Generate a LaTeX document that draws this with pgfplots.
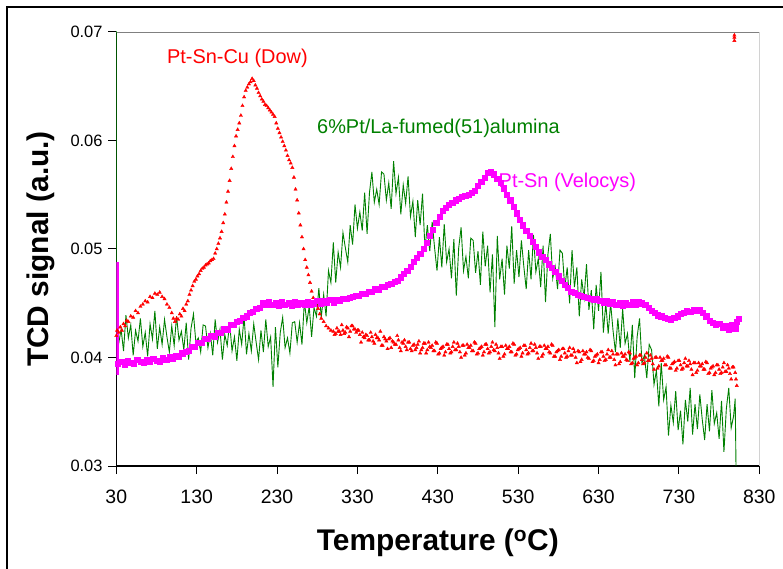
\documentclass[border=0pt]{standalone}
\usepackage{fontspec}
\setmainfont{Liberation Sans}
\usepackage{pgfplots}
\pgfplotsset{compat=1.18}
\definecolor{cred}{RGB}{255,0,0}
\definecolor{cgreen}{RGB}{0,128,0}
\definecolor{cmag}{RGB}{255,0,255}
\begin{document}
\begin{tikzpicture}
\useasboundingbox (0,0) rectangle (783bp,569bp);
\draw[line width=1.5bp] (7bp,0) -- (7bp,562bp) -- (783bp,562bp);
\begin{axis}[
  at={(116.3bp,103bp)}, anchor=south west,
  scale only axis, width=643bp, height=434bp,
  xmin=30, xmax=830, ymin=0.03, ymax=0.07,
  axis x line*=bottom, axis y line*=left,
  axis line style={-, line width=1.3bp, black},
  xtick={30,130,230,330,430,530,630,730,830},
  ytick={0.03,0.04,0.05,0.06,0.07},
  xticklabels={30,130,230,330,430,530,630,730,830},
  yticklabels={0.03,0.04,0.05,0.06,0.07},
  scaled y ticks=false, scaled x ticks=false,
  tick align=outside, major tick length=8bp,
  tick style={black, line width=1bp},
  xticklabel style={font=\fontsize{19.5}{22}\selectfont, anchor=north, inner sep=0pt, yshift=-16bp},
  yticklabel style={font=\fontsize{16.5}{19}\selectfont, anchor=east, inner sep=0pt, xshift=-5.6bp},
  xlabel={Temperature (\textsuperscript{o}C)},
  ylabel={TCD signal (a.u.)},
  label style={font=\fontsize{30}{36}\selectfont\bfseries},
  xlabel style={at={(axis description cs:0.5,-0.1774)}, anchor=center},
  ylabel style={at={(axis description cs:-0.1166,0.5)}, anchor=center},
  clip=true,
]
\draw[black!50, line width=0.8bp] (rel axis cs:0,1) -- (rel axis cs:1,1) -- (rel axis cs:1,0);

% Pt-Sn-Cu (Dow)
\addplot[only marks, mark=triangle*, mark size=1.9bp, color=cred] coordinates {
(30,0.0420)(31,0.0425)(33,0.0423)(35,0.0428)(37,0.0425)(39,0.0431)(41,0.0429)(43,0.0434)(45,0.0433)(48,0.0438)(51,0.0437)(54,0.0443)(57,0.0441)(60,0.0447)(63,0.0449)(66,0.0452)(69,0.0451)(72,0.0456)(75,0.0455)(78,0.0459)(81,0.0458)(84,0.0460)(87,0.0456)(90,0.0454)(93,0.0449)(96,0.0446)(99,0.0441)(101,0.0436)(103,0.0433)(105,0.0436)(107,0.0435)(109,0.0440)(111,0.0438)(113,0.0445)(115,0.0443)(117,0.0449)(119,0.0452)(121,0.0458)(123,0.0462)(125,0.0466)(127,0.0470)(129,0.0472)(131,0.0475)(133,0.0477)(135,0.0480)(137,0.0482)(139,0.0483)(141,0.0485)(143,0.0486)(145,0.0487)(147,0.0489)(149,0.0490)(151,0.0491)(153,0.0496)(155,0.0500)(157,0.0505)(159,0.0510)(161,0.0516)(163,0.0524)(165,0.0532)(167,0.0543)(169,0.0553)(171,0.0563)(173,0.0574)(175,0.0585)(177,0.0595)(179,0.0604)(181,0.0610)(183,0.0616)(185,0.0623)(187,0.0632)(189,0.0640)(191,0.0646)(193,0.0649)(195,0.0652)(197,0.0654)(199,0.0657)(201,0.0655)(203,0.0651)(205,0.0648)(207,0.0644)(209,0.0641)(211,0.0638)(213,0.0636)(215,0.0633)(217,0.0632)(219,0.0630)(221,0.0628)(223,0.0626)(225,0.0624)(227,0.0622)(229,0.0616)(231,0.0611)(233,0.0607)(235,0.0603)(237,0.0599)(239,0.0595)(241,0.0591)(243,0.0586)(245,0.0582)(247,0.0579)(249,0.0575)(251,0.0566)(253,0.0555)(255,0.0545)(257,0.0533)(259,0.0522)(261,0.0511)(263,0.0500)(265,0.0490)(267,0.0483)(269,0.0476)(271,0.0469)(273,0.0461)(275,0.0455)(277,0.0451)(279,0.0448)(281,0.0445)(283,0.0440)(285,0.0436)(288,0.0433)(291,0.0429)(294,0.0427)(297,0.0425)(300,0.0424)(303,0.0422)(306,0.0424)(309,0.0421)(312,0.0425)(315,0.0423)(318,0.0427)(321,0.0424)(324,0.0429)(327,0.0426)(330,0.0425)(333,0.0421)(336,0.0423)(339,0.0418)(342,0.0420)(345,0.0416)(348,0.0419)(351,0.0413)(354,0.0418)(357,0.0416)(360,0.0411)(363,0.0419)(366,0.0415)(369,0.0417)(372,0.0409)(375,0.0414)(378,0.0412)(381,0.0416)(384,0.0406)(387,0.0413)(390,0.0410)(393,0.0414)(396,0.0408)(399,0.0411)(402,0.0407)(405,0.0412)(408,0.0404)(411,0.0409)(414,0.0413)(417,0.0407)(420,0.0410)
(423,0.0411)(426,0.0406)(429,0.0413)(432,0.0404)(435,0.0409)(438,0.0402)(441,0.0412)(444,0.0408)(447,0.0405)(450,0.0414)(453,0.0407)(456,0.0410)(459,0.0400)(462,0.0411)(465,0.0404)(468,0.0409)(471,0.0411)(474,0.0406)(477,0.0413)(480,0.0404)(483,0.0409)(486,0.0402)(489,0.0412)(492,0.0408)(495,0.0405)(498,0.0414)(501,0.0406)(504,0.0409)(507,0.0399)(510,0.0410)(513,0.0403)(516,0.0408)(519,0.0410)(522,0.0405)(525,0.0412)(528,0.0403)(531,0.0408)(534,0.0401)(537,0.0411)(540,0.0407)(543,0.0404)(546,0.0413)(549,0.0406)(552,0.0409)(555,0.0399)(558,0.0410)(561,0.0403)(564,0.0408)(567,0.0410)(570,0.0404)(573,0.0411)(576,0.0401)(579,0.0406)(582,0.0398)(585,0.0408)(588,0.0404)(591,0.0401)(594,0.0409)(597,0.0402)(600,0.0405)(603,0.0395)(606,0.0405)(609,0.0398)(612,0.0403)(615,0.0405)(618,0.0399)(621,0.0406)(624,0.0397)(627,0.0402)(630,0.0395)(633,0.0405)(636,0.0401)(639,0.0398)(642,0.0407)(645,0.0400)(648,0.0403)(651,0.0393)(654,0.0403)(657,0.0396)(660,0.0401)(663,0.0403)(666,0.0397)(669,0.0404)(672,0.0395)(675,0.0400)(678,0.0393)(681,0.0402)(684,0.0398)(687,0.0395)(690,0.0404)(693,0.0397)(696,0.0399)(699,0.0389)(702,0.0400)(705,0.0392)(708,0.0397)(711,0.0399)(714,0.0393)(717,0.0400)(720,0.0390)(723,0.0395)(726,0.0388)(729,0.0397)(732,0.0393)(735,0.0390)(738,0.0399)(741,0.0392)(744,0.0394)(747,0.0384)(750,0.0395)(753,0.0388)(756,0.0392)(759,0.0394)(762,0.0389)(765,0.0395)(768,0.0386)(771,0.0391)(774,0.0384)(777,0.0393)(780,0.0389)(783,0.0386)(786,0.0395)(789,0.0387)(792,0.0390)(795,0.0380)(798,0.0391)(800,0.0386)(801,0.0380)(802,0.0374)
(301.5,0.0421)(304.5,0.0427)(307.5,0.0424)(310.5,0.0430)(313.5,0.0422)(316.5,0.0428)(319.5,0.0419)(322.5,0.0429)(325.5,0.0426)(328.5,0.0423)(331.5,0.0425)(334.5,0.0414)(337.5,0.0419)(340.5,0.0421)(343.5,0.0416)(346.5,0.0423)(349.5,0.0415)(352.5,0.0421)(355.5,0.0418)(358.5,0.0424)(361.5,0.0411)(364.5,0.0417)(367.5,0.0408)(370.5,0.0418)(373.5,0.0415)(376.5,0.0412)(379.5,0.0420)(382.5,0.0409)(385.5,0.0414)(388.5,0.0416)(391.5,0.0407)(394.5,0.0414)(397.5,0.0406)(400.5,0.0412)(403.5,0.0409)(406.5,0.0415)(409.5,0.0407)(412.5,0.0413)(415.5,0.0404)(418.5,0.0414)(421.5,0.0409)(424.5,0.0406)(427.5,0.0414)(430.5,0.0403)(433.5,0.0408)(436.5,0.0410)(439.5,0.0405)(442.5,0.0412)(445.5,0.0404)(448.5,0.0410)(451.5,0.0407)(454.5,0.0413)(457.5,0.0405)(460.5,0.0411)(463.5,0.0402)(466.5,0.0412)(469.5,0.0409)(472.5,0.0406)(475.5,0.0414)(478.5,0.0403)(481.5,0.0408)(484.5,0.0410)(487.5,0.0405)(490.5,0.0412)(493.5,0.0404)(496.5,0.0410)(499.5,0.0407)(502.5,0.0412)(505.5,0.0404)(508.5,0.0410)(511.5,0.0401)(514.5,0.0411)(517.5,0.0408)(520.5,0.0405)(523.5,0.0413)(526.5,0.0402)(529.5,0.0407)(532.5,0.0409)(535.5,0.0404)(538.5,0.0411)(541.5,0.0403)(544.5,0.0409)(547.5,0.0406)(550.5,0.0412)(553.5,0.0404)(556.5,0.0410)(559.5,0.0401)(562.5,0.0411)(565.5,0.0408)(568.5,0.0405)(571.5,0.0412)(574.5,0.0401)(577.5,0.0405)(580.5,0.0407)(583.5,0.0401)(586.5,0.0408)(589.5,0.0400)(592.5,0.0406)(595.5,0.0402)(598.5,0.0408)(601.5,0.0400)(604.5,0.0406)(607.5,0.0396)(610.5,0.0406)(613.5,0.0403)(616.5,0.0400)(619.5,0.0407)(622.5,0.0396)(625.5,0.0401)(628.5,0.0403)(631.5,0.0398)(634.5,0.0405)(637.5,0.0397)(640.5,0.0403)(643.5,0.0400)(646.5,0.0406)(649.5,0.0398)(652.5,0.0403)(655.5,0.0394)(658.5,0.0404)(661.5,0.0401)(664.5,0.0398)(667.5,0.0405)(670.5,0.0394)(673.5,0.0399)(676.5,0.0401)(679.5,0.0395)(682.5,0.0402)(685.5,0.0394)(688.5,0.0400)(691.5,0.0397)(694.5,0.0402)(697.5,0.0394)(700.5,0.0400)(703.5,0.0390)(706.5,0.0400)(709.5,0.0397)(712.5,0.0393)(715.5,0.0401)(718.5,0.0390)(721.5,0.0394)(724.5,0.0396)(727.5,0.0390)(730.5,0.0397)(733.5,0.0389)(736.5,0.0395)(739.5,0.0392)(742.5,0.0397)(745.5,0.0389)(748.5,0.0395)(751.5,0.0386)(754.5,0.0395)(757.5,0.0392)(760.5,0.0389)(763.5,0.0396)(766.5,0.0385)(769.5,0.0390)(772.5,0.0392)(775.5,0.0386)(778.5,0.0393)(781.5,0.0385)(784.5,0.0391)(787.5,0.0387)(790.5,0.0393)(793.5,0.0385)(796.5,0.0391)
(799,0.0692)(799,0.0695)(799,0.0697)
};

% 6%Pt/La-fumed(51)alumina
\addplot[no marks, color=cgreen, line width=0.9bp] coordinates {
(30,0.075)(30,0.0433)(33,0.0413)(36,0.0426)(39,0.0406)(42,0.0439)(45,0.0418)(48,0.0430)(51,0.0402)(54,0.0425)(57,0.0415)(60,0.0436)(63,0.0410)(66,0.0423)(69,0.0401)(72,0.0431)(75,0.0417)(78,0.0443)(81,0.0408)(84,0.0428)(87,0.0412)(90,0.0435)(93,0.0419)(96,0.0405)(99,0.0429)(102,0.0411)(105,0.0438)(108,0.0416)(111,0.0424)(114,0.0407)(117,0.0432)(120,0.0398)(123,0.0427)(126,0.0440)(129,0.0414)
(132,0.0418)(135,0.0405)(138,0.0430)(141,0.0429)(144,0.0409)(147,0.0422)(150,0.0402)(153,0.0435)(156,0.0414)(159,0.0426)(162,0.0398)(165,0.0421)(168,0.0411)(171,0.0432)(174,0.0406)(177,0.0419)(180,0.0397)(183,0.0426)(186,0.0412)(189,0.0438)(192,0.0403)(195,0.0422)(198,0.0406)
(201,0.0431)(204,0.0414)(207,0.0398)(210,0.0425)(213,0.0405)(216,0.0435)(219,0.0410)(222,0.0419)(225,0.0373)(228,0.0428)(231,0.0391)(234,0.0423)(237,0.0437)(240,0.0409)(243,0.0418)(246,0.0404)(249,0.0432)
(252,0.0433)(255,0.0414)(258,0.0432)(261,0.0412)(264,0.0452)(267,0.0432)(270,0.0447)(273,0.0419)(276,0.0446)(279,0.0438)(282,0.0464)
(285,0.0437)(288,0.0458)(291,0.0438)(294,0.0480)(297,0.0469)(300,0.0506)(303,0.0469)(306,0.0497)(309,0.0483)(312,0.0515)(315,0.0501)(318,0.0488)(321,0.0522)(324,0.0504)(327,0.0541)(330,0.0519)(333,0.0534)(336,0.0517)(339,0.0552)(342,0.0514)(345,0.0552)(348,0.0571)(351,0.0543)(354,0.0555)
(357,0.0541)(360,0.0571)(363,0.0569)(366,0.0545)(369,0.0561)(372,0.0537)(375,0.0581)(378,0.0551)(381,0.0566)(384,0.0532)(387,0.0559)
(390,0.0542)(393,0.0567)(396,0.0530)(399,0.0544)(402,0.0511)(405,0.0545)(408,0.0522)(411,0.0551)(414,0.0500)(417,0.0522)(420,0.0498)(423,0.0525)(426,0.0501)(429,0.0480)
(432,0.0511)(435,0.0483)(438,0.0523)(441,0.0488)(444,0.0500)(447,0.0473)(450,0.0509)(453,0.0457)(456,0.0501)(459,0.0520)(462,0.0480)(465,0.0493)(468,0.0473)(471,0.0510)(474,0.0508)(477,0.0478)(480,0.0498)(483,0.0467)(486,0.0516)(489,0.0484)(492,0.0503)(495,0.0460)(498,0.0495)(501,0.0428)(504,0.0512)(507,0.0472)(510,0.0491)(513,0.0458)(516,0.0503)(519,0.0482)(522,0.0521)(525,0.0468)(528,0.0499)(531,0.0474)(534,0.0508)(537,0.0484)(540,0.0463)(543,0.0499)(546,0.0472)(549,0.0513)(552,0.0479)(555,0.0491)(558,0.0465)(561,0.0503)(564,0.0451)(567,0.0495)
(570,0.0514)(573,0.0473)(576,0.0484)(579,0.0463)(582,0.0499)(585,0.0496)(588,0.0464)(591,0.0483)(594,0.0450)(597,0.0499)(600,0.0465)(603,0.0483)(606,0.0438)(609,0.0472)(612,0.0455)(615,0.0486)(618,0.0444)(621,0.0462)(624,0.0426)(627,0.0467)(630,0.0443)(633,0.0479)(636,0.0423)(639,0.0450)(642,0.0422)
(645,0.0450)(648,0.0425)(651,0.0405)(654,0.0436)(657,0.0409)(660,0.0445)(663,0.0413)(666,0.0422)(669,0.0396)(672,0.0430)(675,0.0381)(678,0.0419)(681,0.0436)(684,0.0395)(687,0.0402)(690,0.0381)(693,0.0412)(696,0.0407)(699,0.0375)
(702,0.0388)(705,0.0355)(708,0.0395)(711,0.0361)(714,0.0373)(717,0.0328)(720,0.0356)
(723,0.0340)(726,0.0369)(729,0.0333)(732,0.0351)(735,0.0320)(738,0.0361)(741,0.0341)(744,0.0372)(747,0.0329)(750,0.0357)(753,0.0334)(756,0.0366)(759,0.0343)(762,0.0324)(765,0.0357)(768,0.0332)(771,0.0370)(774,0.0339)(777,0.0349)(780,0.0325)(783,0.0360)(786,0.0313)(789,0.0353)(792,0.0372)(795,0.0335)(798,0.0346)(800,0.0362)(801,0.0300)
};

% Pt-Sn (Velocys)
\addplot[no marks, color=cmag, line width=5bp] coordinates {(30,0.0384)(30,0.0488)};
\addplot[only marks, mark=square*, mark size=2.6bp, color=cmag] coordinates {
(32,0.0394)(36,0.0396)(40,0.0393)(44,0.0397)(48,0.0395)(52,0.0394)(56,0.0398)(60,0.0396)(64,0.0395)(68,0.0398)(72,0.0396)(76,0.0399)(80,0.0397)(84,0.0396)(88,0.0400)(92,0.0398)(96,0.0401)(100,0.0399)(104,0.0402)(108,0.0401)(112,0.0404)(116,0.0405)(120,0.0406)(124,0.0410)(128,0.0410)(132,0.0414)(136,0.0414)(140,0.0417)(144,0.0417)(148,0.0420)(152,0.0419)(156,0.0423)(160,0.0423)(164,0.0426)(168,0.0426)(172,0.0430)(176,0.0430)(180,0.0433)(184,0.0434)(188,0.0437)(192,0.0438)(196,0.0441)(200,0.0442)(204,0.0445)(208,0.0446)(212,0.0450)(216,0.0449)(220,0.0451)(224,0.0449)(228,0.0450)(232,0.0448)(236,0.0451)(240,0.0449)(244,0.0450)(248,0.0448)(252,0.0451)(256,0.0449)(260,0.0450)(264,0.0449)(268,0.0451)(272,0.0449)(276,0.0450)(280,0.0452)(284,0.0450)(288,0.0452)(292,0.0451)(296,0.0453)(300,0.0451)(304,0.0453)(308,0.0452)(312,0.0454)(316,0.0454)(320,0.0455)(324,0.0456)(328,0.0457)(332,0.0457)(336,0.0459)(340,0.0459)(344,0.0461)(348,0.0461)(352,0.0463)(356,0.0463)(360,0.0465)(364,0.0465)(368,0.0467)(372,0.0468)(376,0.0470)(380,0.0471)(384,0.0474)(388,0.0477)(392,0.0480)(396,0.0484)(400,0.0488)(404,0.0492)(408,0.0496)(412,0.0500)(416,0.0506)(420,0.0512)(424,0.0518)(428,0.0524)(432,0.0530)(436,0.0535)(440,0.0538)(444,0.0541)(448,0.0543)(452,0.0545)(456,0.0546)(460,0.0548)(464,0.0549)(468,0.0550)(472,0.0552)(476,0.0554)(480,0.0558)(484,0.0562)(488,0.0566)(492,0.0570)(496,0.0571)(500,0.0569)(504,0.0565)(508,0.0561)(512,0.0556)(516,0.0550)(520,0.0545)(524,0.0539)(528,0.0533)(532,0.0527)(536,0.0522)(540,0.0517)(544,0.0512)(548,0.0507)(552,0.0502)(556,0.0497)(560,0.0493)(564,0.0490)(568,0.0486)(572,0.0483)(576,0.0479)(580,0.0475)(584,0.0471)(588,0.0467)(592,0.0464)(596,0.0461)(600,0.0460)(604,0.0458)(608,0.0457)(612,0.0456)(616,0.0455)(620,0.0454)(624,0.0453)(628,0.0454)(632,0.0452)(636,0.0451)(640,0.0452)(644,0.0450)(648,0.0451)(652,0.0449)(656,0.0450)(660,0.0448)(664,0.0450)(668,0.0449)(672,0.0451)(676,0.0449)(680,0.0451)(684,0.0450)(688,0.0449)(692,0.0446)(696,0.0443)(700,0.0441)(704,0.0439)(708,0.0438)(712,0.0437)(716,0.0436)(720,0.0435)(724,0.0437)(728,0.0438)(732,0.0440)(736,0.0441)(740,0.0443)(744,0.0442)(748,0.0444)(752,0.0443)(756,0.0444)(760,0.0441)(764,0.0438)(768,0.0434)(772,0.0432)(776,0.0430)(780,0.0431)(784,0.0428)(788,0.0429)(792,0.0426)(796,0.0430)(800,0.0427)(802,0.0433)(804,0.0436)
};

\node[text=cred, font=\fontsize{20}{24}\selectfont] at (axis cs:180.7,0.0676) {Pt-Sn-Cu (Dow)};
\node[text=cgreen, font=\fontsize{20}{24}\selectfont] at (axis cs:430.8,0.06115) {6\%Pt/La-fumed(51)alumina};
\node[text=cmag, font=\fontsize{20}{24}\selectfont] at (axis cs:591.2,0.05618) {Pt-Sn (Velocys)};
\end{axis}
\end{tikzpicture}
\end{document}
